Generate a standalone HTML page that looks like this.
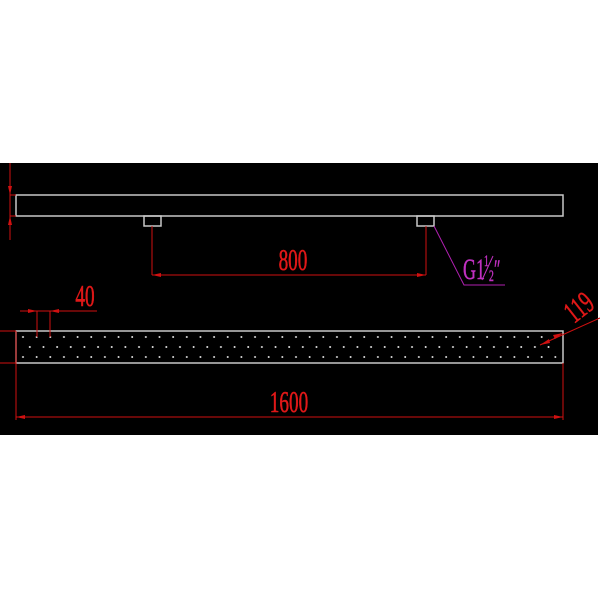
<!DOCTYPE html>
<html><head><style>body{margin:0;background:#fff}svg{display:block}</style></head><body>
<svg width="600" height="600" viewBox="0 0 600 600" xmlns="http://www.w3.org/2000/svg">
<defs>
<pattern id="dp" patternUnits="userSpaceOnUse" x="16" y="331" width="13.65" height="32">
<circle cx="7" cy="6" r="1" fill="#ddd"/>
<circle cx="7" cy="26" r="1" fill="#ddd"/>
<circle cx="0.2" cy="16" r="1" fill="#ddd"/>
<circle cx="13.85" cy="16" r="1" fill="#ddd"/>
</pattern>
</defs>
<rect x="0" y="163" width="598" height="272" fill="#000"/>
<rect x="18" y="333" width="543" height="28" fill="url(#dp)"/>
<g fill="none" stroke="#c8c8c8" stroke-width="1.5">
<rect x="16" y="195" width="547" height="21"/>
<rect x="144" y="216" width="17" height="10"/>
<rect x="417" y="216" width="17" height="10"/>
<rect x="16" y="331" width="547" height="32"/>
</g>
<g stroke="#d01010" stroke-width="1" fill="none">
<line x1="10" y1="163" x2="10" y2="240"/>
<line x1="10" y1="195" x2="16" y2="195"/>
<line x1="10" y1="216" x2="16" y2="216"/>
<line x1="152" y1="226" x2="152" y2="275"/>
<line x1="426" y1="226" x2="426" y2="275"/>
<line x1="152" y1="275" x2="426" y2="275"/>
<line x1="37" y1="311" x2="37" y2="337"/>
<line x1="50" y1="311" x2="50" y2="337"/>
<line x1="20" y1="311" x2="97" y2="311"/>
<line x1="0" y1="331" x2="16" y2="331"/>
<line x1="0" y1="363" x2="16" y2="363"/>
<line x1="16" y1="331" x2="16" y2="420"/>
<line x1="563" y1="363" x2="563" y2="420"/>
<line x1="16" y1="417" x2="563" y2="417"/>
<line x1="540" y1="345" x2="600" y2="318"/>
</g>
<g fill="#d01010">
<polygon points="10,195 8,186 12,186"/><polygon points="10,216 8,225 12,225"/>
<polygon points="152,275 161,273 161,277"/><polygon points="426,275 417,273 417,277"/>
<polygon points="37,311 28,309 28,313"/><polygon points="50,311 59,309 59,313"/>
<polygon points="16,417 25,415 25,419"/><polygon points="563,417 554,415 554,419"/>
<polygon points="563,333 553,335 555,339"/><polygon points="540,345 549,339 550,343"/>
</g>
<g stroke="#b020b0" stroke-width="1" fill="none">
<polyline points="434,226 464,285 505,285"/>
</g>
<g font-family="Liberation Serif, serif" fill="#e01818" stroke="#e01818" stroke-width="0.6" font-size="31">
<text x="293" y="270" text-anchor="middle" transform="translate(293 0) scale(0.62 1) translate(-293 0)">800</text>
<text x="85" y="306" text-anchor="middle" transform="translate(85 0) scale(0.62 1) translate(-85 0)">40</text>
<text x="289" y="412" text-anchor="middle" transform="translate(289 0) scale(0.62 1) translate(-289 0)">1600</text>
<text x="0" y="0" transform="translate(574 324) rotate(-38) scale(0.62 1)">119</text>
</g>
<g font-family="Liberation Serif, serif" fill="#c030c0" stroke="#c030c0" stroke-width="0.5">
<text x="0" y="0" font-size="30" transform="translate(463 279) scale(0.6 1)">G1</text>
<text x="0" y="0" font-size="16" transform="translate(484 266) scale(0.6 1)">1</text>
<line x1="482" y1="280" x2="493" y2="256" stroke-width="1"/>
<text x="0" y="0" font-size="16" transform="translate(489 281) scale(0.6 1)">2</text>
<text x="0" y="0" font-size="26" transform="translate(494 278) scale(0.6 1)">″</text>
</g>
</svg>
</body></html>
